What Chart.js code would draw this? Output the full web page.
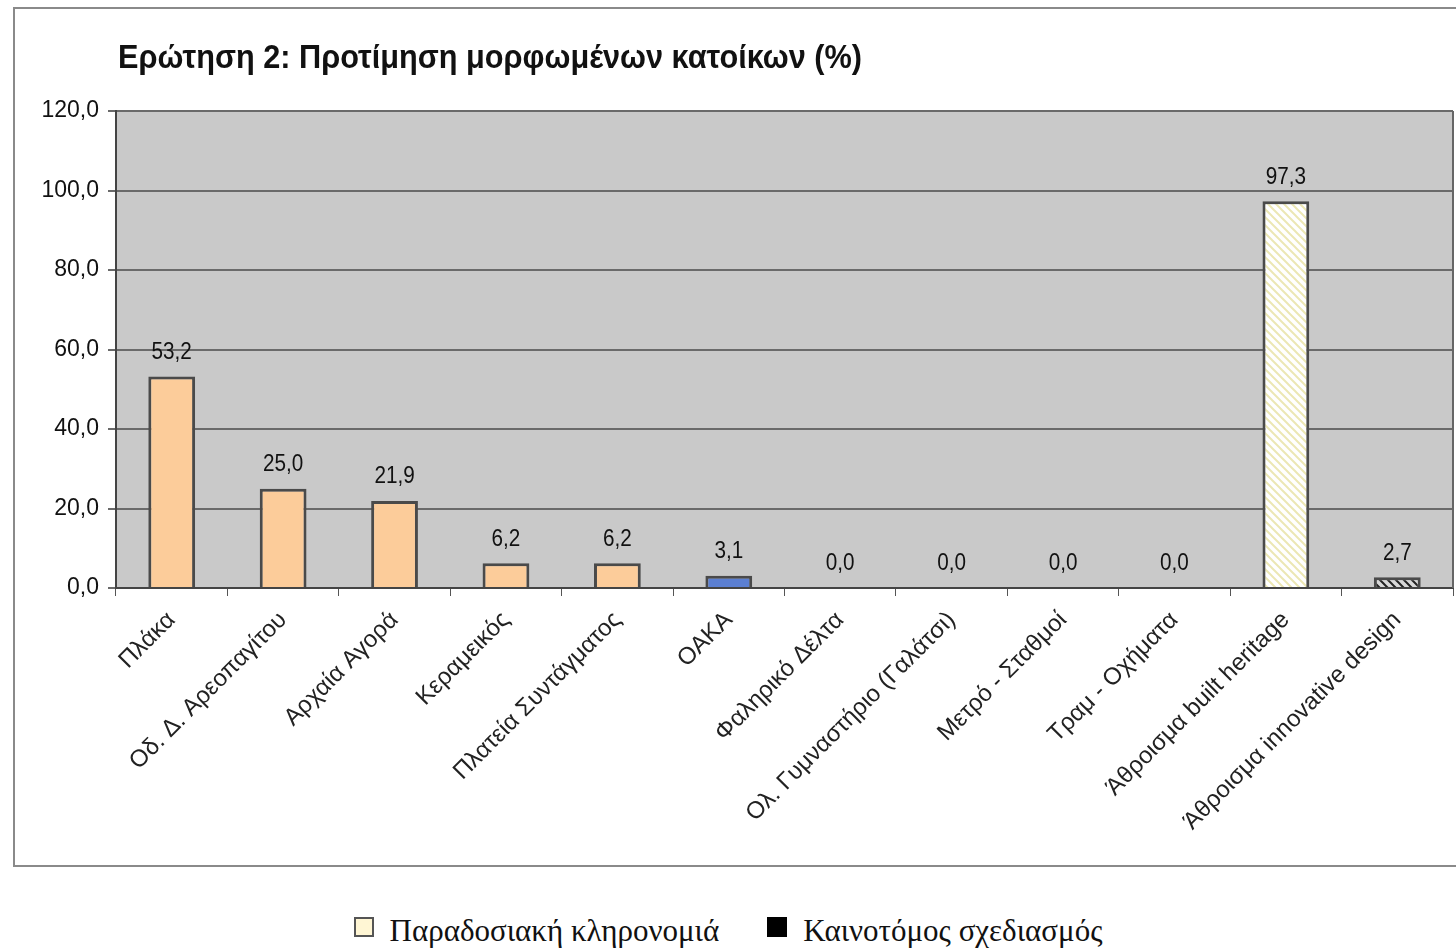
<!DOCTYPE html>
<html>
<head>
<meta charset="utf-8">
<script src="https://cdn.jsdelivr.net/npm/chart.js@4.4.1/dist/chart.umd.min.js"></script>
<style>
  body { margin: 0; background: #fff; overflow: hidden; width: 1456px; height: 950px; position: relative; }
  #wrap { position: absolute; left: 0; top: 0; width: 1456px; height: 870px; }
  #legend { position: absolute; top: 913px; left: 0; width: 1456px; text-align: center;
            font-family: "Liberation Serif", serif; font-size: 31px; color: #111; }
  #legend span.item { display: inline-block; margin: 0 24px; }
  #legend span.box { display: inline-block; width: 20px; height: 20px; margin-right: 16px;
                     vertical-align: 4px; box-sizing: border-box; }
</style>
</head>
<body>
<div id="wrap"><canvas id="myCanvas"></canvas></div>
<div id="legend"></div>
<script>
var categories = ["Πλάκα", "Οδ. Δ. Αρεοπαγίτου", "Αρχαία Αγορά", "Κεραμεικός", "Πλατεία Συντάγματος",
  "ΟΑΚΑ", "Φαληρικό Δέλτα", "Ολ. Γυμναστήριο (Γαλάτσι)", "Μετρό - Σταθμοί", "Τραμ - Οχήματα",
  "Άθροισμα built heritage", "Άθροισμα innovative design"];
var heritage = [53.2, 25.0, 21.9, 6.2, 6.2, null, null, null, null, null, 97.3, null];
var innovative = [null, null, null, null, null, 3.1, 0.0, 0.0, 0.0, 0.0, null, 2.7];
var yTicks = [0, 20, 40, 60, 80, 100, 120];
var seriesNames = ["Παραδοσιακή κληρονομιά", "Καινοτόμος σχεδιασμός"];
var titleText = "Ερώτηση 2: Προτίμηση μορφωμένων κατοίκων (%)";

function stripes(bg, fg, w) {
  var c = document.createElement("canvas");
  c.width = 8; c.height = 8;
  var g = c.getContext("2d");
  g.fillStyle = bg; g.fillRect(0, 0, 8, 8);
  g.strokeStyle = fg; g.lineWidth = w;
  g.beginPath();
  g.moveTo(-2, -2); g.lineTo(10, 10);
  g.moveTo(-2, 6); g.lineTo(2, 10);
  g.moveTo(6, -2); g.lineTo(10, 2);
  g.stroke();
  return g.createPattern(c, "repeat");
}

var ctx = document.getElementById("myCanvas").getContext("2d");
var peach = "#fccc9a";
var heritageColors = heritage.map(function (v, i) { return i == 10 ? stripes("#ffffff", "#ece7b4", 2) : peach; });
var innovColors = innovative.map(function (v, i) { return i == 11 ? stripes("#d8d8d8", "#222222", 2) : "#5b7fd2"; });

// narrow-ish text like the scanned original
function squeezeText(c, txt, x, y, sx) {
  c.save();
  c.translate(x, y);
  c.scale(sx, 1);
  c.fillText(txt, 0, 0);
  c.restore();
}

var frame = {
  id: "frame",
  beforeDraw: function (chart) {
    var c = chart.ctx, a = chart.chartArea;
    c.save();
    c.fillStyle = "#ffffff";
    c.fillRect(0, 0, chart.width, chart.height);
    c.strokeStyle = "#8a8a8a"; c.lineWidth = 2;
    c.strokeRect(14, 8, 1460, 858);
    c.fillStyle = "#c9c9c9";
    c.fillRect(a.left, a.top, a.right - a.left, a.bottom - a.top);
    c.fillStyle = "#111";
    c.font = "bold 33px 'Liberation Sans', Arial, sans-serif";
    c.textBaseline = "middle"; c.textAlign = "left";
    var w = c.measureText(titleText).width;
    squeezeText(c, titleText, a.left + 2, 59, 744 / w);
    c.restore();
  },
  afterDraw: function (chart) {
    var c = chart.ctx, a = chart.chartArea;
    c.save();
    c.strokeStyle = "#666"; c.lineWidth = 2;
    c.beginPath(); c.moveTo(a.right, a.top); c.lineTo(a.right, a.bottom); c.stroke();
    c.fillStyle = "#111";
    c.font = "23px 'Liberation Sans', Arial, sans-serif";
    c.textAlign = "center"; c.textBaseline = "middle";
    chart.data.datasets.forEach(function (ds, di) {
      var meta = chart.getDatasetMeta(di);
      meta.data.forEach(function (el, i) {
        var v = ds.data[i];
        if (v === null || v === undefined) return;
        squeezeText(c, v.toFixed(1).replace(".", ","), el.x, el.y - 24, 0.9);
      });
    });
    c.restore();
  }
};

var chart = new Chart(ctx, {
  type: "bar",
  data: {
    labels: categories,
    datasets: [
      { label: seriesNames[0], data: heritage, backgroundColor: heritageColors,
        borderColor: "#4a4a4a", borderWidth: 3, barPercentage: 0.42, categoryPercentage: 1 },
      { label: seriesNames[1], data: innovative, backgroundColor: innovColors,
        borderColor: "#4a4a4a", borderWidth: 3, barPercentage: 0.42, categoryPercentage: 1 }
    ]
  },
  options: {
    responsive: true,
    maintainAspectRatio: false,
    animation: false,
    layout: { padding: { top: 111, left: 0, right: 3, bottom: 12 } },
    plugins: { legend: { display: false }, tooltip: { enabled: false }, title: { display: false } },
    scales: {
      x: {
        stacked: true,
        afterFit: function (s) { s.height = 270; },
        grid: { drawOnChartArea: false, drawTicks: true, tickLength: 8, color: "#555", offset: true },
        border: { color: "#444", width: 2 },
        ticks: { autoSkip: false, minRotation: 45, maxRotation: 45, color: "#222", padding: 10,
                 font: { family: "'Liberation Sans', Arial, sans-serif", size: 24 } }
      },
      y: {
        stacked: true,
        min: 0, max: 120,
        afterFit: function (s) { s.width = 116; },
        afterBuildTicks: function (s) { s.ticks = yTicks.map(function (v) { return { value: v }; }); },
        grid: { color: "#6a6a6a", lineWidth: 2, tickLength: 8 },
        border: { color: "#444", width: 2 },
        ticks: { color: "#111", padding: 9,
                 font: { family: "'Liberation Sans', Arial, sans-serif", size: 23 },
                 callback: function (v) { return v.toFixed(1).replace(".", ","); } }
      }
    }
  },
  plugins: [frame]
});

var legendColors = [["#fff6d4", "#555"], ["#000", "#000"]];
document.getElementById("legend").innerHTML = seriesNames.map(function (n, i) {
  return '<span class="item"><span class="box" style="background:' + legendColors[i][0] +
    ';border:2px solid ' + legendColors[i][1] + '"></span>' + n + '</span>';
}).join("");
</script>
</body>
</html>
